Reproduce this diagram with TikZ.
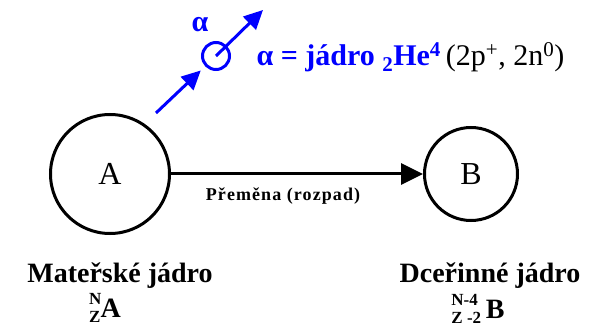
\documentclass[tikz,border=0pt]{standalone}
\usepackage{fontspec}
\setmainfont{LiberationSerif}[Extension=.ttf, UprightFont=*-Regular, BoldFont=*-Bold, ItalicFont=*-Italic, BoldItalicFont=*-BoldItalic]
\usetikzlibrary{arrows.meta}
\definecolor{ablue}{RGB}{0,0,255}
\tikzset{
  nucleus/.style={draw, circle, line width=3pt, inner sep=0pt, font=\fontsize{32}{32}\selectfont},
  decay/.style={line width=3pt, -{Triangle[length=22pt,width=21pt]}},
  alphaarrow/.style={ablue, line width=3pt, -{Triangle[length=19pt,width=18pt]}},
  bigbold/.style={font=\fontsize{28}{28}\selectfont\bfseries},
}
\newcommand{\supsub}[2]{\rlap{\raisebox{13pt}{\fontsize{17}{17}\selectfont #1}}\raisebox{-5pt}{\fontsize{17}{17}\selectfont #2}}
\begin{document}
\begin{tikzpicture}[x=1pt,y=-1pt]
\useasboundingbox (0,0) rectangle (590,329);
\node[nucleus, minimum size=119pt] (A) at (110,174) {A};
\node[nucleus, minimum size=93pt] (B) at (471,174) {B};
\draw[decay] (A) -- (B);
\node[font=\fontsize{18}{18}\selectfont\bfseries\addfontfeature{LetterSpace=6}] (lab) at (283,196) {Přeměna (rozpad)};
% alpha particle
\node[draw=ablue, circle, line width=3pt, minimum size=27pt, inner sep=0pt] (s) at (216,56) {};
\coordinate (la) at (156,113);
\coordinate (ua) at (263,10);
\draw[alphaarrow, shorten >=6pt] (la) -- (s);
\draw[alphaarrow] (s.center) -- (ua);
\node[text=ablue, font=\fontsize{30}{30}\selectfont\bfseries] (al) at (200,25) {α};
\node[anchor=base west, font=\fontsize{30}{30}\selectfont] (eq) at (253,66)
  {\textcolor{ablue}{\bfseries α = jádro \textsubscript{2}He\textsuperscript{4}}\,(2p\textsuperscript{+}, 2n\textsuperscript{0})};
% labels
\node[bigbold] (m) at (120,276) {Mateřské jádro};
\node[bigbold, anchor=base] (ma) at (105,317) {\supsub{N}{Z}A};
\node[bigbold] (d) at (490,276) {Dceřinné jádro};
\node[bigbold, anchor=base] (db) at (478,318) {\supsub{N-4}{Z -2}\,B};
\end{tikzpicture}
\end{document}
